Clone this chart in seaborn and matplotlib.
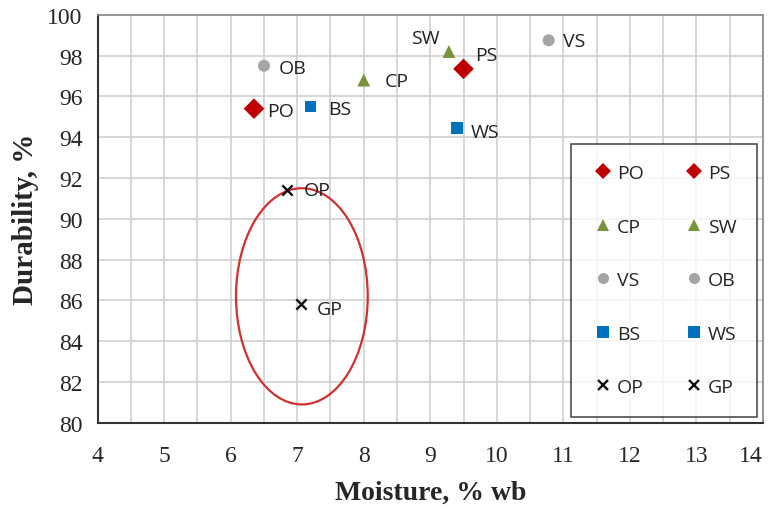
import matplotlib
matplotlib.use("Agg")
import matplotlib.pyplot as plt
from matplotlib.patches import Ellipse
import seaborn as sns
import pandas as pd

labels = ["PO", "PS", "CP", "SW", "VS", "OB", "BS", "WS", "OP", "GP"]
moisture = [6.35, 9.5, 8.0, 9.28, 10.78, 6.5, 7.2, 9.4, 6.85, 7.05]
durability = [95.4, 97.35, 96.8, 98.2, 98.75, 97.5, 95.5, 94.45, 91.4, 85.8]
groups = ["red", "red", "green", "green", "gray", "gray", "blue", "blue", "black", "black"]

df = pd.DataFrame({"label": labels, "moisture": moisture, "durability": durability, "group": groups})

styles = {
    "red": dict(color="#C00000", marker="D", s=110, ms=8),
    "green": dict(color="#77933C", marker="^", s=85, ms=8),
    "gray": dict(color="#A5A5A5", marker="o", s=75, ms=8),
    "blue": dict(color="#0070C0", marker="s", s=70, ms=8),
    "black": dict(color="#111111", marker="x", s=55, ms=7.5),
}

sns.set_style("white")
fig = plt.figure(figsize=(7.69, 5.10), dpi=100)
ax = fig.add_axes([0.127, 0.169, 0.865, 0.8])

handles = {}
for lab in labels:
    sub = df[df["label"] == lab]
    st = styles[sub["group"].iloc[0]]
    is_x = st["marker"] == "x"
    sns.scatterplot(data=sub, x="moisture", y="durability", ax=ax, color=st["color"],
                    marker=st["marker"], s=st["s"], linewidth=1.7 if is_x else 0,
                    edgecolor=st["color"] if is_x else "none", zorder=3, legend=False)
    handles[lab] = plt.Line2D([], [], linestyle="none", marker=st["marker"],
                              color=st["color"], markersize=st["ms"],
                              markeredgewidth=1.7 if is_x else 0)

# (dx, dy in points, horizontal alignment)
offsets = {"PO": (9.5, -1.5, "left"), "PS": (8, 10, "left"), "CP": (15, -1, "left"),
           "SW": (-6.5, 10, "right"), "VS": (10, -0.5, "left"), "OB": (11, -1.5, "left"),
           "BS": (13, -1.5, "left"), "WS": (10, -3, "left"), "OP": (12, 0, "left"),
           "GP": (11.5, -3, "left")}
for lab, x, y in zip(labels, moisture, durability):
    dx, dy, ha = offsets[lab]
    ax.annotate(lab, (x, y), xytext=(dx, dy), textcoords="offset points", ha=ha, va="center",
                fontsize=14, family="Open Sans", color="#222222", zorder=4)

ax.add_patch(Ellipse((7.07, 86.2), 1.98, 10.6, fill=False, edgecolor="#D03030", linewidth=1.6, zorder=2))

ax.set_xlim(4, 14)
ax.set_ylim(80, 100)
ax.set_xticks(range(4, 15))
ax.set_yticks(range(80, 101, 2))
ax.set_xticks([4.5 + i for i in range(10)], minor=True)
ax.grid(True, which="both", color="#D0D0D0", linewidth=1.2, zorder=0)
ax.set_axisbelow(True)

for lbl in ax.get_xticklabels() + ax.get_yticklabels():
    lbl.set_family("Liberation Serif")
    lbl.set_fontsize(17)
ax.get_xticklabels()[-1].set_horizontalalignment("right")
ax.tick_params(axis="x", which="major", direction="out", length=5, color="#444444", width=1.2, pad=11)
ax.tick_params(axis="y", which="major", direction="out", length=5, color="#444444", width=1.2, pad=6)
ax.tick_params(axis="x", which="minor", length=0)

ax.set_xlabel("Moisture, % wb", family="Liberation Serif", fontsize=20, fontweight="bold", labelpad=10)
ax.set_ylabel("Durability, %", family="Liberation Serif", fontsize=21, fontweight="bold", labelpad=6)

for side in ["left", "bottom"]:
    ax.spines[side].set_color("#333333")
    ax.spines[side].set_linewidth(1.5)
for side in ["top", "right"]:
    ax.spines[side].set_color("#888888")
    ax.spines[side].set_linewidth(1.2)

order = ["PO", "CP", "VS", "BS", "OP", "PS", "SW", "OB", "WS", "GP"]
leg = ax.legend([handles[k] for k in order], order, ncol=2, loc="lower right",
                bbox_to_anchor=(0.991, 0.015), frameon=True, fancybox=False,
                prop={"family": "Open Sans", "size": 14}, labelspacing=1.83,
                handletextpad=0.1, columnspacing=2.0, borderpad=1.05, handlelength=1.2,
                borderaxespad=0)
leg.get_frame().set_edgecolor("#222222")
leg.get_frame().set_linewidth(1.2)
leg.set_zorder(5)

fig.savefig("out.png", dpi=100)
